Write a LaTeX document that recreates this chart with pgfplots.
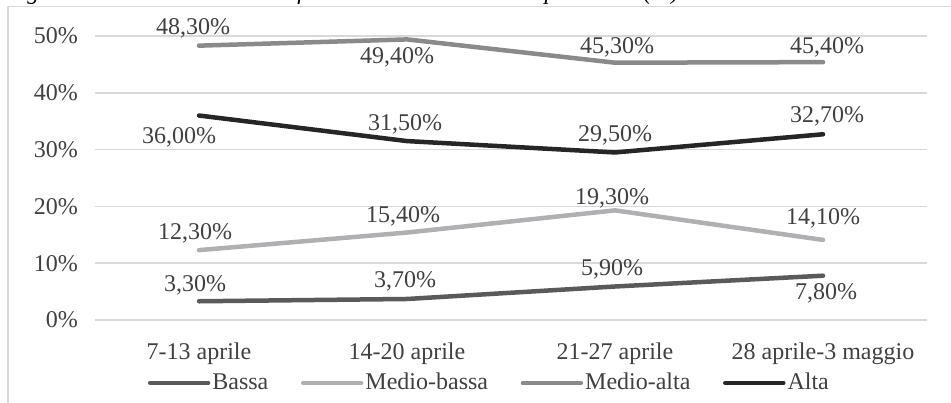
\documentclass[border=0pt]{standalone}
\usepackage{fontspec}
\setmainfont{Liberation Serif}
\usepackage{pgfplots}
\pgfplotsset{compat=1.18}
\definecolor{cBassa}{HTML}{5A5A5A}
\definecolor{cMB}{HTML}{B0B0B2}
\definecolor{cMA}{HTML}{8A8A8A}
\definecolor{cAlta}{HTML}{262626}
\definecolor{gridc}{HTML}{D9D9D9}
\definecolor{txt}{HTML}{404040}
\tikzset{lbl/.style={text=txt, anchor=center, inner sep=0pt, font=\fontsize{12}{14}\selectfont}}
\begin{document}
\begin{tikzpicture}[font=\fontsize{12}{14}\selectfont]
\useasboundingbox (0,0) rectangle (475.5pt,201pt);
\clip (0,0) rectangle (475.5pt,201pt);
\draw[gridc, line width=0.6pt] (4pt,-5pt) rectangle (485pt,197.6pt);
\node[anchor=base west, font=\itshape\fontsize{11.8}{14}\selectfont, inner sep=0, text=black] at (3pt,201.3pt) {Fig. 6.1. Andamento indice di fiducia nella Fase 1 della pandemia (\%)};
\begin{axis}[
  at={(47.5pt,41pt)}, anchor=south west,
  scale only axis, width=416pt, height=142pt,
  xmin=0.5, xmax=4.5, ymin=0, ymax=50,
  xtick={1,2,3,4},
  xticklabels={7-13 aprile,14-20 aprile,21-27 aprile,28 aprile-3 maggio},
  ytick={0,10,20,30,40,50},
  yticklabel={\pgfmathprintnumber{\tick}\%},
  /pgf/number format/assume math mode=true,
  axis line style={draw=none},
  ymajorgrids, grid style={gridc, line width=0.75pt},
  major tick length=0pt,
  tick label style={text=txt, font=\fontsize{12}{14}\selectfont},
  xticklabel style={anchor=center, yshift=-17pt},
  yticklabel style={anchor=east, xshift=-5pt},
  clip=false,
  legend columns=4,
  legend style={at={(0.474,-0.222)}, anchor=center, draw=none, fill=none,
    font=\fontsize{12}{14}\selectfont, text=txt,
    nodes={inner xsep=1pt},
    /tikz/every even column/.append style={column sep=15.3pt}},
  legend image code/.code={\draw[#1, line width=2.25pt, line cap=round] (0pt,0pt) -- (29pt,0pt);},
  every axis plot/.append style={line width=2.25pt, line cap=round, line join=round},
]
\addplot[cBassa, mark=none] coordinates {(1,3.3) (2,3.7) (3,5.9) (4,7.8)};
\addlegendentry{Bassa}
\addplot[cMB, mark=none] coordinates {(1,12.3) (2,15.4) (3,19.3) (4,14.1)};
\addlegendentry{Medio-bassa}
\addplot[cMA, mark=none] coordinates {(1,48.3) (2,49.4) (3,45.3) (4,45.4)};
\addlegendentry{Medio-alta}
\addplot[cAlta, mark=none] coordinates {(1,36.0) (2,31.5) (3,29.5) (4,32.7)};
\addlegendentry{Alta}
% labels Medio-alta
\node[lbl, xshift=-3pt, yshift=8.5pt] at (axis cs:1,48.3) {48,30\%};
\node[lbl, xshift=-5pt, yshift=-9pt] at (axis cs:2,49.4) {49,40\%};
\node[lbl, xshift=1pt, yshift=7.5pt] at (axis cs:3,45.3) {45,30\%};
\node[lbl, xshift=2pt, yshift=7.5pt] at (axis cs:4,45.4) {45,40\%};
% Alta
\node[lbl, xshift=-10pt, yshift=-11pt] at (axis cs:1,36.0) {36,00\%};
\node[lbl, xshift=-1pt, yshift=8.5pt] at (axis cs:2,31.5) {31,50\%};
\node[lbl, xshift=0pt, yshift=8.75pt] at (axis cs:3,29.5) {29,50\%};
\node[lbl, xshift=2pt, yshift=8.75pt] at (axis cs:4,32.7) {32,70\%};
% Medio-bassa
\node[lbl, xshift=-2pt, yshift=8.4pt] at (axis cs:1,12.3) {12,30\%};
\node[lbl, xshift=-2pt, yshift=8pt] at (axis cs:2,15.4) {15,40\%};
\node[lbl, xshift=-1.5pt, yshift=6pt] at (axis cs:3,19.3) {19,30\%};
\node[lbl, xshift=0pt, yshift=11pt] at (axis cs:4,14.1) {14,10\%};
% Bassa
\node[lbl, xshift=-2pt, yshift=8pt] at (axis cs:1,3.3) {3,30\%};
\node[lbl, xshift=-1pt, yshift=9pt] at (axis cs:2,3.7) {3,70\%};
\node[lbl, xshift=-1.5pt, yshift=8.5pt] at (axis cs:3,5.9) {5,90\%};
\node[lbl, xshift=1.5pt, yshift=-9pt] at (axis cs:4,7.8) {7,80\%};
\end{axis}
\end{tikzpicture}
\end{document}
